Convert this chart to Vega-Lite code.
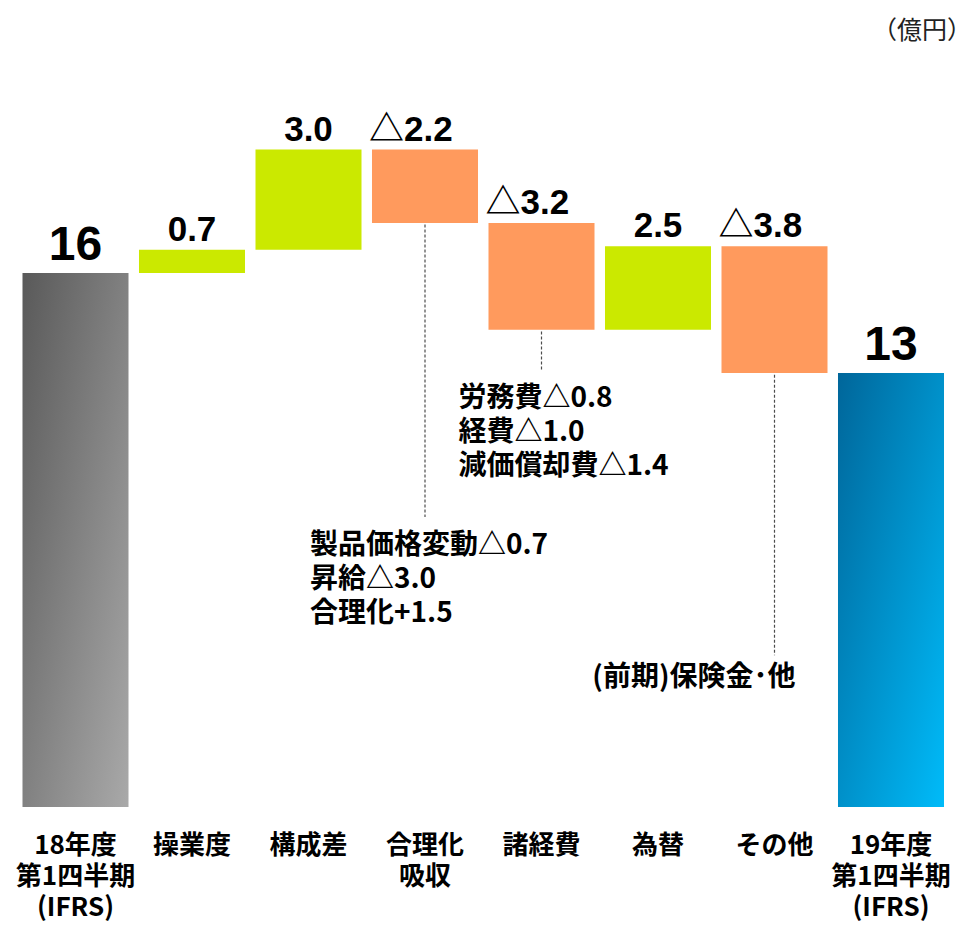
{
  "$schema": "https://vega.github.io/schema/vega-lite/v6.json",
  "width": 976,
  "height": 925,
  "padding": 0,
  "autosize": {"type": "none"},
  "background": "white",
  "config": {"view": {"stroke": null}},
  "title": {"text": "（億円）", "anchor": "end", "orient": "top", "frame": "group", "offset": -44, "dx": -4, "font": "Noto Sans CJK JP", "fontSize": 25, "fontWeight": "normal", "color": "#222222"},
  "datasets": {
    "bars": [
      {"cat": "18年度", "label": "18年度\n第1四半期\n(IFRS)", "start": 0, "end": 16, "kind": "prev", "value": "16"},
      {"cat": "操業度", "label": "操業度", "start": 16, "end": 16.7, "kind": "up", "value": "0.7"},
      {"cat": "構成差", "label": "構成差", "start": 16.7, "end": 19.7, "kind": "up", "value": "3.0"},
      {"cat": "合理化吸収", "label": "合理化\n吸収", "start": 19.7, "end": 17.5, "kind": "down", "value": "△2.2"},
      {"cat": "諸経費", "label": "諸経費", "start": 17.5, "end": 14.3, "kind": "down", "value": "△3.2"},
      {"cat": "為替", "label": "為替", "start": 14.3, "end": 16.8, "kind": "up", "value": "2.5"},
      {"cat": "その他", "label": "その他", "start": 16.8, "end": 13.0, "kind": "down", "value": "△3.8"},
      {"cat": "19年度", "label": "19年度\n第1四半期\n(IFRS)", "start": 0, "end": 13, "kind": "cur", "value": "13"}
    ],
    "notes": [
      {"cat": "合理化吸収", "from": 17.45, "to": 8.69, "note": "製品価格変動△0.7\n昇給△3.0\n合理化+1.5"},
      {"cat": "諸経費", "from": 14.25, "to": 13.09, "note": "労務費△0.8\n経費△1.0\n減価償却費△1.4"},
      {"cat": "その他", "from": 12.95, "to": 4.55, "note": "(前期)保険金･他"}
    ]
  },
  "encoding": {
    "x": {
      "field": "cat", "type": "nominal", "axis": null,
      "scale": {"domain": ["18年度", "操業度", "構成差", "合理化吸収", "諸経費", "為替", "その他", "19年度"], "range": [17.25, 949.25], "paddingInner": 0.09, "paddingOuter": 0.045}
    }
  },
  "layer": [
    {
      "data": {"name": "bars"},
      "transform": [{"filter": "datum.kind === 'up' || datum.kind === 'down'"}],
      "mark": {"type": "bar"},
      "encoding": {
        "y": {"field": "start", "type": "quantitative", "axis": null, "scale": {"domain": [-3.536, 24.18], "nice": false, "zero": false}},
        "y2": {"field": "end"},
        "color": {"field": "kind", "type": "nominal", "legend": null, "scale": {"domain": ["up", "down"], "range": ["#cbe900", "#ff9a5d"]}}
      }
    },
    {
      "data": {"name": "bars"},
      "transform": [{"filter": "datum.kind === 'prev'"}],
      "mark": {"type": "bar", "color": {"gradient": "linear", "x1": 0, "y1": 0, "x2": 1, "y2": 1, "stops": [{"offset": 0, "color": "#595959"}, {"offset": 1, "color": "#a9a9a9"}]}},
      "encoding": {
        "y": {"field": "start", "type": "quantitative", "axis": null, "scale": {"domain": [-3.536, 24.18], "nice": false, "zero": false}},
        "y2": {"field": "end"}
      }
    },
    {
      "data": {"name": "bars"},
      "transform": [{"filter": "datum.kind === 'cur'"}],
      "mark": {"type": "bar", "color": {"gradient": "linear", "x1": 0, "y1": 0, "x2": 1, "y2": 1, "stops": [{"offset": 0, "color": "#00669a"}, {"offset": 1, "color": "#00bbf9"}]}},
      "encoding": {
        "y": {"field": "start", "type": "quantitative", "axis": null, "scale": {"domain": [-3.536, 24.18], "nice": false, "zero": false}},
        "y2": {"field": "end"}
      }
    },
    {
      "data": {"name": "bars"},
      "transform": [{"filter": "datum.kind === 'up'"}],
      "mark": {"type": "text", "align": "center", "baseline": "alphabetic", "dy": -9, "font": "Liberation Sans, Noto Sans CJK JP", "fontWeight": "bold", "fontSize": 35, "color": "#000000"},
      "encoding": {
        "y": {"field": "end", "type": "quantitative", "axis": null, "scale": {"domain": [-3.536, 24.18], "nice": false, "zero": false}},
        "text": {"field": "value"}
      }
    },
    {
      "data": {"name": "bars"},
      "transform": [{"filter": "datum.kind === 'prev' || datum.kind === 'cur'"}],
      "mark": {"type": "text", "align": "center", "baseline": "alphabetic", "dy": -13, "font": "Liberation Sans, Noto Sans CJK JP", "fontWeight": "bold", "fontSize": 48, "color": "#000000"},
      "encoding": {
        "y": {"field": "end", "type": "quantitative", "axis": null, "scale": {"domain": [-3.536, 24.18], "nice": false, "zero": false}},
        "text": {"field": "value"}
      }
    },
    {
      "data": {"name": "bars"},
      "transform": [{"filter": "datum.kind === 'down'"}],
      "mark": {"type": "text", "align": "left", "baseline": "alphabetic", "dy": -9, "dx": -56, "font": "Liberation Sans, Noto Sans CJK JP", "fontWeight": "bold", "fontSize": 35, "color": "#000000"},
      "encoding": {
        "y": {"field": "start", "type": "quantitative", "axis": null, "scale": {"domain": [-3.536, 24.18], "nice": false, "zero": false}},
        "text": {"field": "value"}
      }
    },
    {
      "data": {"name": "bars"},
      "mark": {"type": "text", "align": "center", "baseline": "top", "dy": 26, "lineBreak": "\n", "lineHeight": 31, "font": "Noto Sans CJK JP", "fontWeight": "bold", "fontSize": 26, "color": "#000000"},
      "encoding": {
        "y": {"datum": 0, "type": "quantitative", "axis": null, "scale": {"domain": [-3.536, 24.18], "nice": false, "zero": false}},
        "text": {"field": "label"}
      }
    },
    {
      "data": {"name": "notes"},
      "mark": {"type": "rule", "strokeDash": [3, 2], "color": "#4d4d4d", "strokeWidth": 1.2},
      "encoding": {
        "y": {"field": "from", "type": "quantitative", "axis": null, "scale": {"domain": [-3.536, 24.18], "nice": false, "zero": false}},
        "y2": {"field": "to"}
      }
    },
    {
      "data": {"name": "notes"},
      "transform": [{"filter": "datum.cat === '合理化吸収'"}],
      "mark": {"type": "text", "align": "left", "baseline": "top", "dx": -115, "dy": 15, "lineBreak": "\n", "lineHeight": 34, "font": "Noto Sans CJK JP", "fontWeight": "bold", "fontSize": 28, "color": "#000000"},
      "encoding": {
        "y": {"field": "to", "type": "quantitative", "axis": null, "scale": {"domain": [-3.536, 24.18], "nice": false, "zero": false}},
        "text": {"field": "note"}
      }
    },
    {
      "data": {"name": "notes"},
      "transform": [{"filter": "datum.cat === '諸経費'"}],
      "mark": {"type": "text", "align": "left", "baseline": "top", "dx": -83, "dy": 15, "lineBreak": "\n", "lineHeight": 34, "font": "Noto Sans CJK JP", "fontWeight": "bold", "fontSize": 28, "color": "#000000"},
      "encoding": {
        "y": {"field": "to", "type": "quantitative", "axis": null, "scale": {"domain": [-3.536, 24.18], "nice": false, "zero": false}},
        "text": {"field": "note"}
      }
    },
    {
      "data": {"name": "notes"},
      "transform": [{"filter": "datum.cat === 'その他'"}],
      "mark": {"type": "text", "align": "right", "baseline": "top", "dx": 21, "dy": 9, "lineBreak": "\n", "lineHeight": 34, "font": "Noto Sans CJK JP", "fontWeight": "bold", "fontSize": 28, "color": "#000000"},
      "encoding": {
        "y": {"field": "to", "type": "quantitative", "axis": null, "scale": {"domain": [-3.536, 24.18], "nice": false, "zero": false}},
        "text": {"field": "note"}
      }
    }
  ]
}
